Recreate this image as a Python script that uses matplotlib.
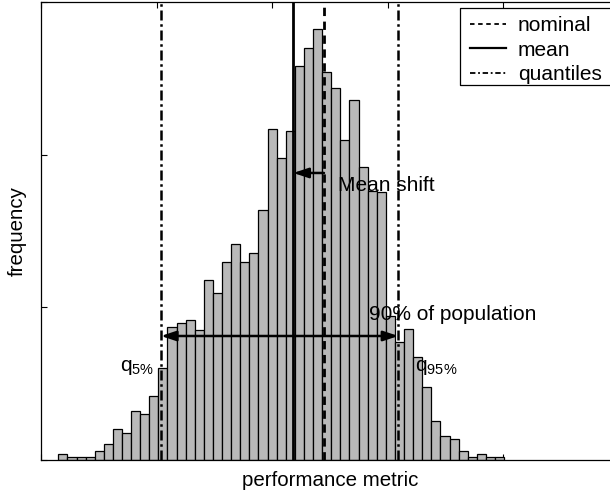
import numpy as np
import matplotlib
matplotlib.use("Agg")
import matplotlib.pyplot as plt
from matplotlib.lines import Line2D
from matplotlib.patches import Rectangle

plt.rcParams["font.family"] = ["Liberation Sans", "DejaVu Sans"]
plt.rcParams["mathtext.default"] = "regular"

# histogram of the performance metric (bar heights, equal-width bins)
bin_start = -1.850
bin_width = 0.0787
freq = [
    0.039, 0.018, 0.018, 0.018, 0.057, 0.100, 0.197, 0.177, 0.317, 0.300,
    0.418, 0.597, 0.872, 0.892, 0.913, 0.852, 1.176, 1.093, 1.292, 1.412,
    1.292, 1.351, 1.635, 2.170, 1.977, 2.155, 2.579, 2.700, 2.820, 2.542,
    2.437, 2.098, 2.356, 1.915, 1.759, 1.755, 0.938, 0.772, 0.854, 0.673,
    0.477, 0.254, 0.155, 0.136, 0.054, 0.018, 0.035, 0.018, 0.018,
]

nominal = 0.448
mean = 0.183
q05 = -0.962
q95 = 1.091

FS = 15

fig = plt.figure(figsize=(6.1, 4.9), dpi=100)
ax = fig.add_axes([0.0672, 0.0622, 0.9475, 0.9337])

edges = bin_start + bin_width * np.arange(len(freq))
ax.bar(edges, freq, width=bin_width, align="edge",
       color="#b9b9b9", edgecolor="black", linewidth=0.9, zorder=2)

ax.axvline(nominal, color="black", linestyle=(0, (3, 2)), linewidth=2.0, zorder=3)
ax.axvline(mean, color="black", linestyle="-", linewidth=2.0, zorder=3)
for q in (q05, q95):
    ax.axvline(q, color="black", linestyle=(0, (4, 1.5, 1, 1.5)),
               linewidth=1.8, zorder=3)

# 90% span between the quantiles
ax.annotate("", xy=(q95, 0.81), xytext=(q05, 0.81),
            arrowprops=dict(arrowstyle="<|-|>,head_length=0.45,head_width=0.15",
                            mutation_scale=20, color="black", lw=1.8,
                            shrinkA=0, shrinkB=0), zorder=4)
ax.text(0.837, 0.954, "90% of population", fontsize=FS, va="center", ha="left")

# shift of the mean away from the nominal value
ax.annotate("", xy=(mean, 1.879), xytext=(nominal, 1.879),
            arrowprops=dict(arrowstyle="-|>,head_length=0.45,head_width=0.15",
                            mutation_scale=20, color="black", lw=1.8,
                            shrinkA=0, shrinkB=0), zorder=4)
ax.text(0.569, 1.80, "Mean shift", fontsize=FS, va="center", ha="left")

ax.text(-1.315, 0.58, r"q$_{5\%}$", fontsize=FS, va="baseline", ha="left")
ax.text(1.235, 0.58, r"q$_{95\%}$", fontsize=FS, va="baseline", ha="left")

ax.set_xlim(-2, 3)
ax.set_ylim(0, 3)
ax.set_xticks(np.arange(-2, 4))
ax.set_yticks(np.arange(0, 4))
ax.set_xticklabels([])
ax.set_yticklabels([])
ax.tick_params(direction="in", length=4, width=0.8, top=True, right=True)
for s in ax.spines.values():
    s.set_linewidth(0.9)

ax.set_xlabel("performance metric", fontsize=14.8, labelpad=5)
ax.set_ylabel("frequency", fontsize=14.8, labelpad=7)

# legend box runs off the right edge: white fill plus top/left/bottom border
bx0, by0, bx1, by1 = 0.725, 0.819, 1.05, 0.987
ax.add_patch(Rectangle((bx0, by0), bx1 - bx0, by1 - by0, transform=ax.transAxes,
                       facecolor="white", edgecolor="none",
                       zorder=5, clip_on=False))
ax.add_line(Line2D([bx1, bx0, bx0, bx1], [by1, by1, by0, by0],
                   transform=ax.transAxes, color="black", linewidth=0.9,
                   zorder=5.5, clip_on=False))
handles = [
    Line2D([], [], color="black", linestyle=(0, (2.5, 2)), linewidth=1.3),
    Line2D([], [], color="black", linestyle="-", linewidth=1.6),
    Line2D([], [], color="black", linestyle=(0, (3, 1.5, 1, 1.5)), linewidth=1.3),
]
leg = ax.legend(handles, ["nominal", "mean", "quantiles"], loc="upper left",
                bbox_to_anchor=(0.7422, 0.969), frameon=False,
                fontsize=FS, handlelength=1.75, handletextpad=0.55,
                labelspacing=0.26, borderpad=0, borderaxespad=0)
leg.set_zorder(6)

fig.savefig("out.png", dpi=100)
